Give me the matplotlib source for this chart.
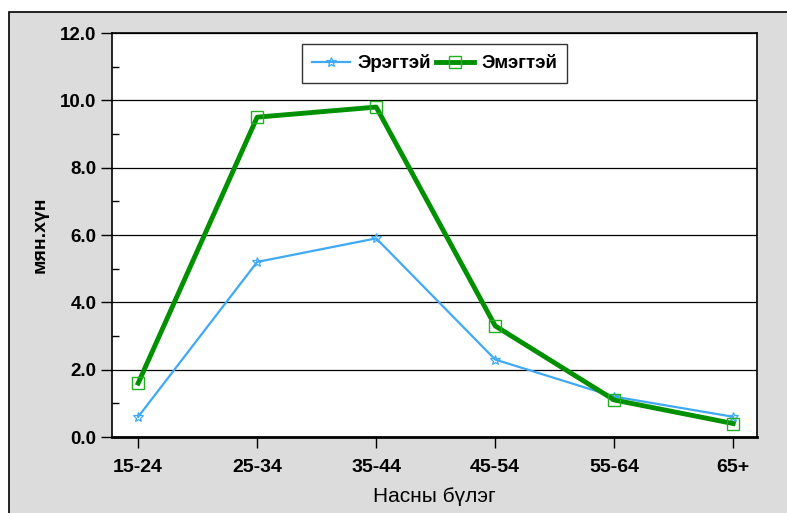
import matplotlib
matplotlib.use('Agg')
import matplotlib.pyplot as plt
from matplotlib.patches import Rectangle
from matplotlib.ticker import MultipleLocator

plt.rcParams['font.family'] = ['Liberation Sans', 'DejaVu Sans']

age_groups = ['15-24', '25-34', '35-44', '45-54', '55-64', '65+']
male = [0.6, 5.2, 5.9, 2.3, 1.2, 0.6]
female = [1.6, 9.5, 9.8, 3.3, 1.1, 0.4]

W, H = 787, 513
fig = plt.figure(figsize=(W / 100, H / 100), dpi=100)
fig.patch.set_facecolor('white')
# gray frame behind the chart
fig.patches.append(Rectangle((9 / W, -0.05), 1.0, (H - 12) / H + 0.05, transform=fig.transFigure,
                             facecolor='#dcdcdc', edgecolor='black', linewidth=1.2, zorder=-1))

ax = fig.add_axes([112 / W, 1 - 437 / H, (757 - 112) / W, (437 - 33) / H])
ax.set_facecolor('white')

x = list(range(len(age_groups)))
ax.plot(x, male, color='#3fa9f5', linewidth=1.6, marker='*', markersize=7,
        markerfacecolor='none', markeredgecolor='#3fa9f5', markeredgewidth=0.9, label='Эрэгтэй', zorder=3)
ax.plot(x, female, color='#009000', linewidth=3.5, marker='s', markersize=9,
        markerfacecolor='none', markeredgecolor='#22b022', markeredgewidth=1.0, label='Эмэгтэй', zorder=4)

ax.set_xlim(-0.22, 5.2)
ax.set_ylim(0, 12)
ax.set_xticks(x)
ax.set_xticklabels(age_groups)
ax.yaxis.set_major_locator(MultipleLocator(2))
ax.yaxis.set_minor_locator(MultipleLocator(1))
ax.yaxis.set_major_formatter(lambda v, p: f'{v:.1f}')
ax.grid(axis='y', which='major', color='black', linewidth=0.9)
ax.set_axisbelow(True)

ax.tick_params(axis='y', which='major', direction='out', length=8, width=1, labelsize=13.5, pad=3)
ax.tick_params(axis='y', which='minor', direction='in', length=5, width=1)
ax.tick_params(axis='x', direction='out', length=8, width=1, labelsize=14, pad=8)
for lab in ax.get_xticklabels() + ax.get_yticklabels():
    lab.set_fontweight('bold')

for s in ax.spines.values():
    s.set_linewidth(1.2)
ax.spines['bottom'].set_linewidth(2)

ax.set_xlabel('Насны бүлэг', fontsize=15)
ax.xaxis.set_label_coords(0.5, -0.124)
ax.set_ylabel('мян.хүн', fontsize=14, fontweight='bold')
ax.yaxis.set_label_coords(-0.099, 0.5)

leg = ax.legend(loc='upper center', ncol=2, bbox_to_anchor=(0.5, 0.973), frameon=True, fancybox=False,
                edgecolor='black', prop={'weight': 'bold', 'size': 13.5}, handlelength=2.0,
                columnspacing=0.3, handletextpad=0.4, borderpad=0.55, borderaxespad=0)
leg.get_frame().set_linewidth(1.0)

fig.savefig('out.png', dpi=100)
